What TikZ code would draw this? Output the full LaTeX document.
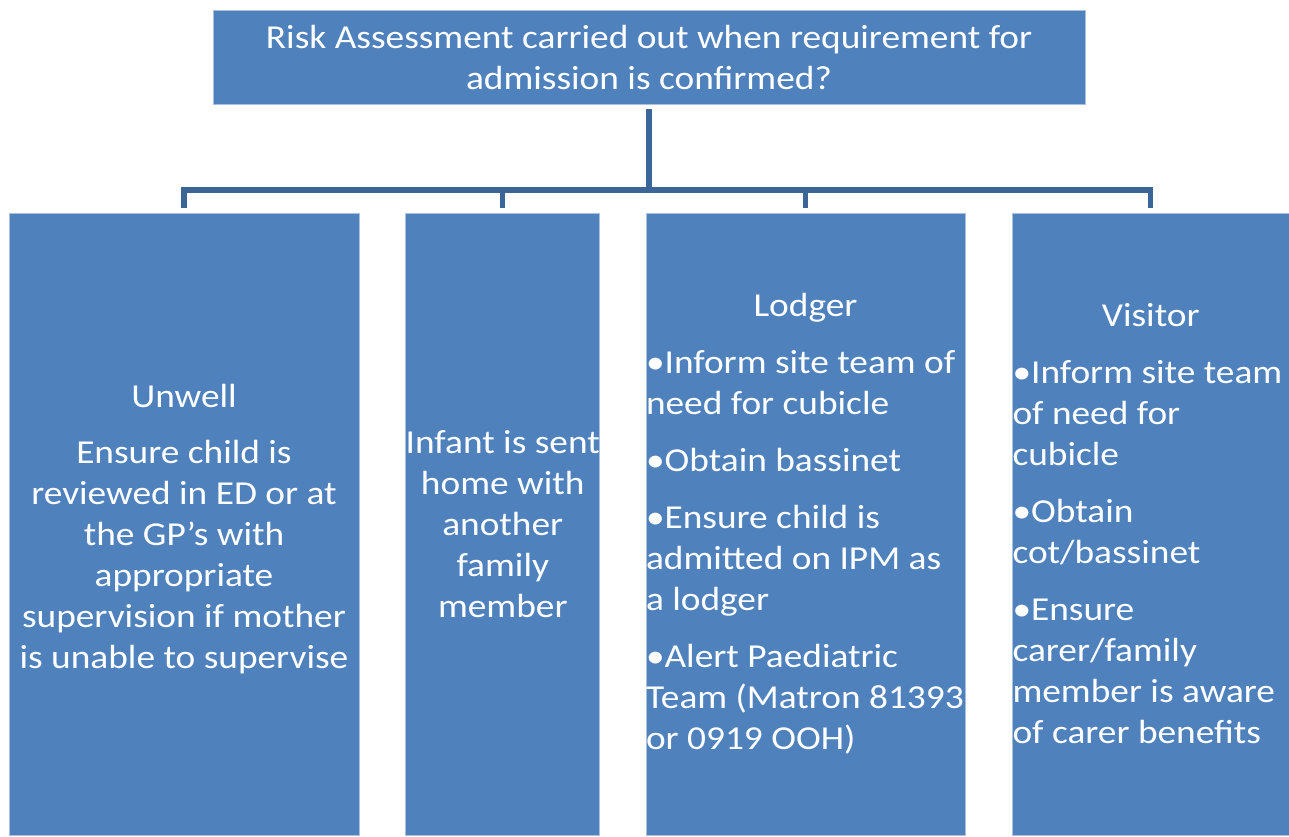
\documentclass[tikz,border=0pt]{standalone}
\usepackage{fontspec}
\setmainfont{Carlito}[FakeStretch=1.115]
\usetikzlibrary{calc}
\definecolor{boxblue}{HTML}{4F81BD}
\definecolor{boxedge}{HTML}{A9C1DF}
\definecolor{linkblue}{HTML}{3B6497}
\begin{document}
\begin{tikzpicture}[x=1pt,y=-1pt,
  card/.style={rectangle, fill=boxblue, draw=boxedge, line width=0.8pt,
    inner sep=0pt, text=white, font=\fontsize{33.5}{41}\selectfont},
  link/.style={draw=linkblue, line width=5.2pt}]
  \useasboundingbox (0,0) rectangle (1289,836);

  % parent box
  \node[card, minimum width=872pt, minimum height=94pt, align=center] (top) at (649,57)
    {Risk Assessment carried out when requirement for\\admission is confirmed?};

  % the four options
  \node[card, minimum width=350pt, minimum height=622pt, align=center] (unwell) at (184,524)
    {\rule{0pt}{33pt}Unwell\\[15pt]
     Ensure child is\\reviewed in ED or at\\the GP’s with\\appropriate\\supervision if mother\\is unable to supervise};

  \node[card, minimum width=193.5pt, minimum height=622pt, align=center] (infant) at (502.75,524)
    {Infant is sent\\home with\\another\\family\\member};

  \node[card, minimum width=319pt, minimum height=622pt, align=left] (lodger) at (805.5,524)
    {\makebox[319pt]{Lodger}\\[16pt]
     •Inform site team of\\need for cubicle\\[16pt]
     •Obtain bassinet\\[16pt]
     •Ensure child is\\admitted on IPM as\\a lodger\\[16pt]
     •Alert Paediatric\\Team (Matron 81393\\or 0919 OOH)};

  \node[card, minimum width=276.5pt, minimum height=622pt, align=left] (visitor) at (1150.75,524)
    {\makebox[276.5pt]{Visitor}\\[16pt]
     •Inform site team\\of need for\\cubicle\\[16pt]
     •Obtain\\cot/bassinet\\[16pt]
     •Ensure\\carer/family\\member is aware\\of carer benefits};

  % connector bus
  \coordinate (bus) at (649,190);
  \foreach \child in {unwell,infant,lodger,visitor}
    \draw[link] ([yshift=-5pt]top.south) -- (top.south |- bus) -| ([yshift=5pt]\child.north);
\end{tikzpicture}
\end{document}
